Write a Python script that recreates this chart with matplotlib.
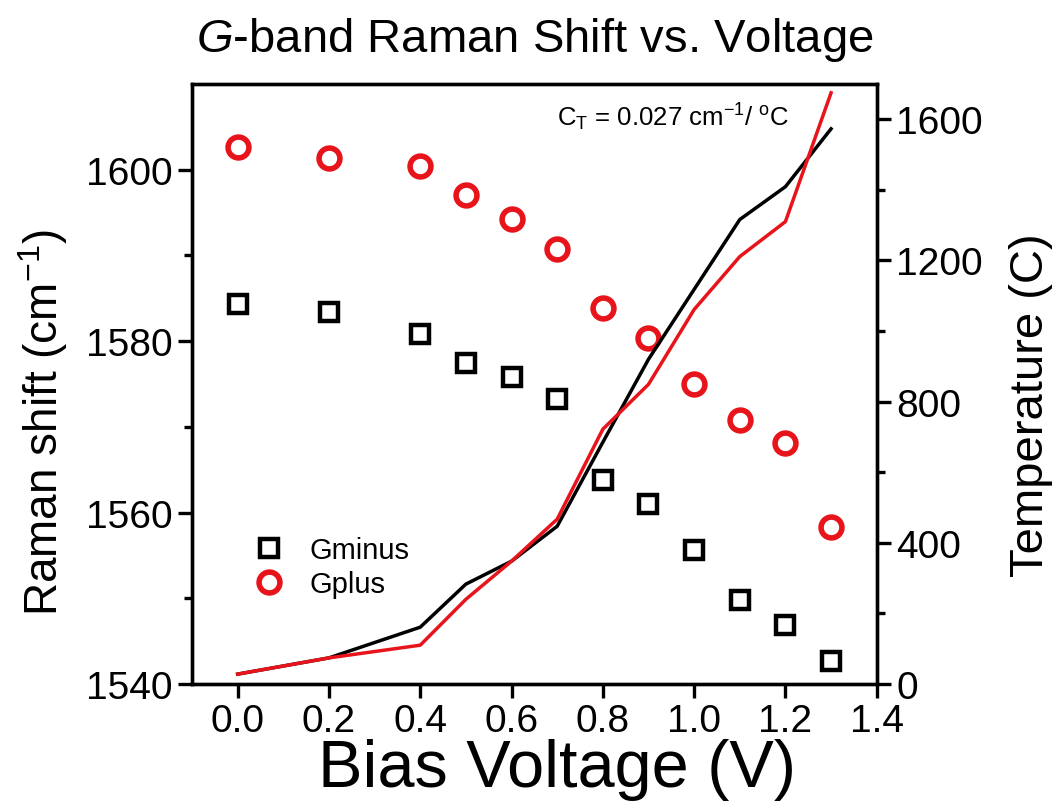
import numpy as np
import matplotlib.pyplot as plt

plt.rcParams['font.family'] = ['Liberation Sans', 'DejaVu Sans']
plt.rcParams['mathtext.fontset'] = 'custom'
plt.rcParams['mathtext.rm'] = 'Liberation Sans'
plt.rcParams['mathtext.it'] = 'Liberation Sans:italic'

# data
voltage = np.array([0.0, 0.2, 0.4, 0.5, 0.6, 0.7, 0.8, 0.9, 1.0, 1.1, 1.2, 1.3])
gminus = np.array([1584.3, 1583.4, 1580.8, 1577.4, 1575.8, 1573.2,
                   1563.8, 1561.0, 1555.6, 1549.8, 1546.9, 1542.7])
gplus = np.array([1602.7, 1601.4, 1600.4, 1597.0, 1594.2, 1590.7,
                  1583.9, 1580.4, 1575.0, 1570.8, 1568.1, 1558.3])
temp_minus = np.array([28, 74, 161, 283, 348, 447, 685, 920, 1118, 1316, 1409, 1573])
temp_plus = np.array([28, 74, 110, 240, 348, 467, 722, 849, 1061, 1211, 1310, 1675])

fig = plt.figure(figsize=(10.55, 8.12), dpi=100)
ax = fig.add_axes([0.182, 0.1564, 0.649, 0.7389])
ax2 = ax.twinx()

ax.plot(voltage, gminus, 's', ms=13, mfc='none', mec='black', mew=3.2, label='Gminus')
ax.plot(voltage, gplus, 'o', ms=15, mfc='none', mec='#e8141b', mew=4, label='Gplus')

ax2.plot(voltage, temp_minus, color='black', lw=2.5)
ax2.plot(voltage, temp_plus, color='#e8141b', lw=2.5)

ax.set_xlim(-0.1, 1.4)
ax.set_ylim(1540, 1610)
ax2.set_ylim(0, 1700)

ax.set_xticks(np.arange(0, 1.41, 0.2))
ax.set_xticklabels(['%.1f' % v for v in np.arange(0, 1.41, 0.2)])
ax.set_yticks([1540, 1560, 1580, 1600])
ax.set_yticks([1550, 1570, 1590], minor=True)
ax2.set_yticks([0, 400, 800, 1200, 1600])
ax2.set_yticks([200, 600, 1000, 1400], minor=True)

for a in (ax, ax2):
    for s in a.spines.values():
        s.set_linewidth(2.4)
    a.tick_params(which='major', direction='out', length=10, width=2.4, labelsize=28, pad=4)
    a.tick_params(which='minor', direction='out', length=6, width=2.4)
ax.tick_params(axis='y', right=False)

ax.set_xlabel('Bias Voltage (V)', fontsize=48, labelpad=-1)
ax.xaxis.set_label_coords(0.533, -0.09)
ax.set_ylabel('Raman shift (cm$^{-1}$)', fontsize=33)
ax.yaxis.set_label_coords(-0.178, 0.438)
ax2.set_ylabel('Temperature (C)', fontsize=34)
ax2.yaxis.set_label_coords(1.193, 0.467)
ax.set_title('$\\mathit{G}$-band Raman Shift vs. Voltage', fontsize=34, pad=24)

ax.text(0.953, 1606.2, 'C$_\\mathrm{T}$ = 0.027 cm$^{-1}$/ $^\\mathrm{o}$C', fontsize=18.5,
        ha='center', va='center')

ax.legend(loc='lower left', bbox_to_anchor=(0.044, 0.10), frameon=False, fontsize=21,
          handletextpad=0.7, labelspacing=0.2, handlelength=1.4)

fig.savefig('out.png', dpi=100)
